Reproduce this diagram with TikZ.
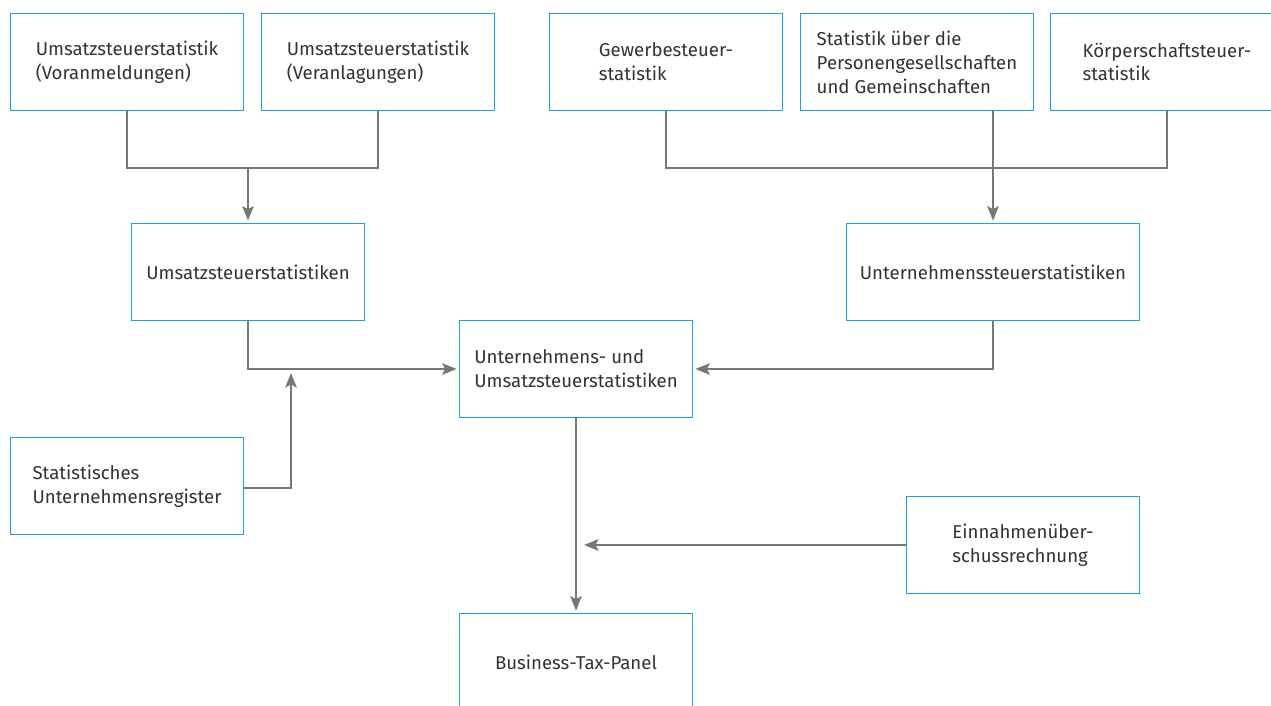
\documentclass[tikz,border=0pt]{standalone}
\usepackage{fontspec}
\setmainfont{Fira Sans}
\usepackage{xcolor}
\usetikzlibrary{arrows.meta,positioning}
\definecolor{boxblue}{RGB}{30,158,220}
\definecolor{linegray}{RGB}{118,119,123}
\definecolor{textgray}{RGB}{50,50,54}
\tikzset{
  statbox/.style={rectangle,draw=boxblue,line width=1pt,
    minimum width=4.66cm,minimum height=1.94cm,
    align=left,text=textgray,font=\fontsize{10.6}{13.6}\selectfont},
  widebox/.style={statbox,minimum width=5.86cm},
  joint/.style={draw=linegray,line width=1.1pt},
  flow/.style={joint,-{Stealth[length=2.9mm,width=2.3mm,inset=0.6mm]},shorten >=0.4mm}
}
\begin{document}
\begin{tikzpicture}[x=0.02cm,y=-0.02cm]
  \useasboundingbox (0,0) rectangle (1271,706);
  \clip (0,0) rectangle (1271,706);

  % sources
  \node[statbox] (vorab)   at (127,62)  {Umsatzsteuerstatistik\\(Voranmeldungen)};
  \node[statbox] (veranl)  at (378,62)  {Umsatzsteuerstatistik\\(Veranlagungen)};
  \node[statbox] (gewst)   at (666,62)  {Gewerbesteuer-\\statistik};
  \node[statbox] (persges) at (917,62)  {Statistik über die\\Personengesellschaften\\und Gemeinschaften};
  \node[statbox] (koerpst) at (1167,62) {Körperschaftsteuer-\\statistik};

  % merged statistics
  \node[statbox] (ustst)   at (248,272) {Umsatzsteuerstatistiken};
  \node[widebox] (untst)   at (993,272) {Unternehmenssteuerstatistiken};
  \node[statbox] (unust)   at (576,369) {Unternehmens- und\\Umsatzsteuerstatistiken};
  \node[statbox] (urs)     at (127,486) {Statistisches\\Unternehmensregister};
  \node[statbox] (eur)     at (1023,545) {Einnahmenüber-\\schussrechnung};
  \node[statbox] (btp)     at (576,662) {Business-Tax-Panel};

  \coordinate (bar) at (0,168);
  \coordinate (ursin) at (291,371);
  \coordinate (eurin) at (582,545);

  \draw[joint] (vorab.south) |- (bar -| veranl.south) -- (veranl.south);
  \draw[flow] (bar -| ustst.north) -- (ustst.north);
  \draw[joint] (gewst.south) |- (bar -| koerpst.south) -- (koerpst.south);
  \draw[flow] (persges.south -| untst.north) -- (untst.north);

  \draw[flow] (ustst.south) |- (unust.west);
  \draw[flow] (untst.south) |- (unust.east);
  \draw[flow] ([yshift=-1pt]urs.east) -| (ursin);
  \draw[flow] (unust.south) -- (btp.north);
  \draw[flow] (eur.west) -- (eurin);
\end{tikzpicture}
\end{document}
